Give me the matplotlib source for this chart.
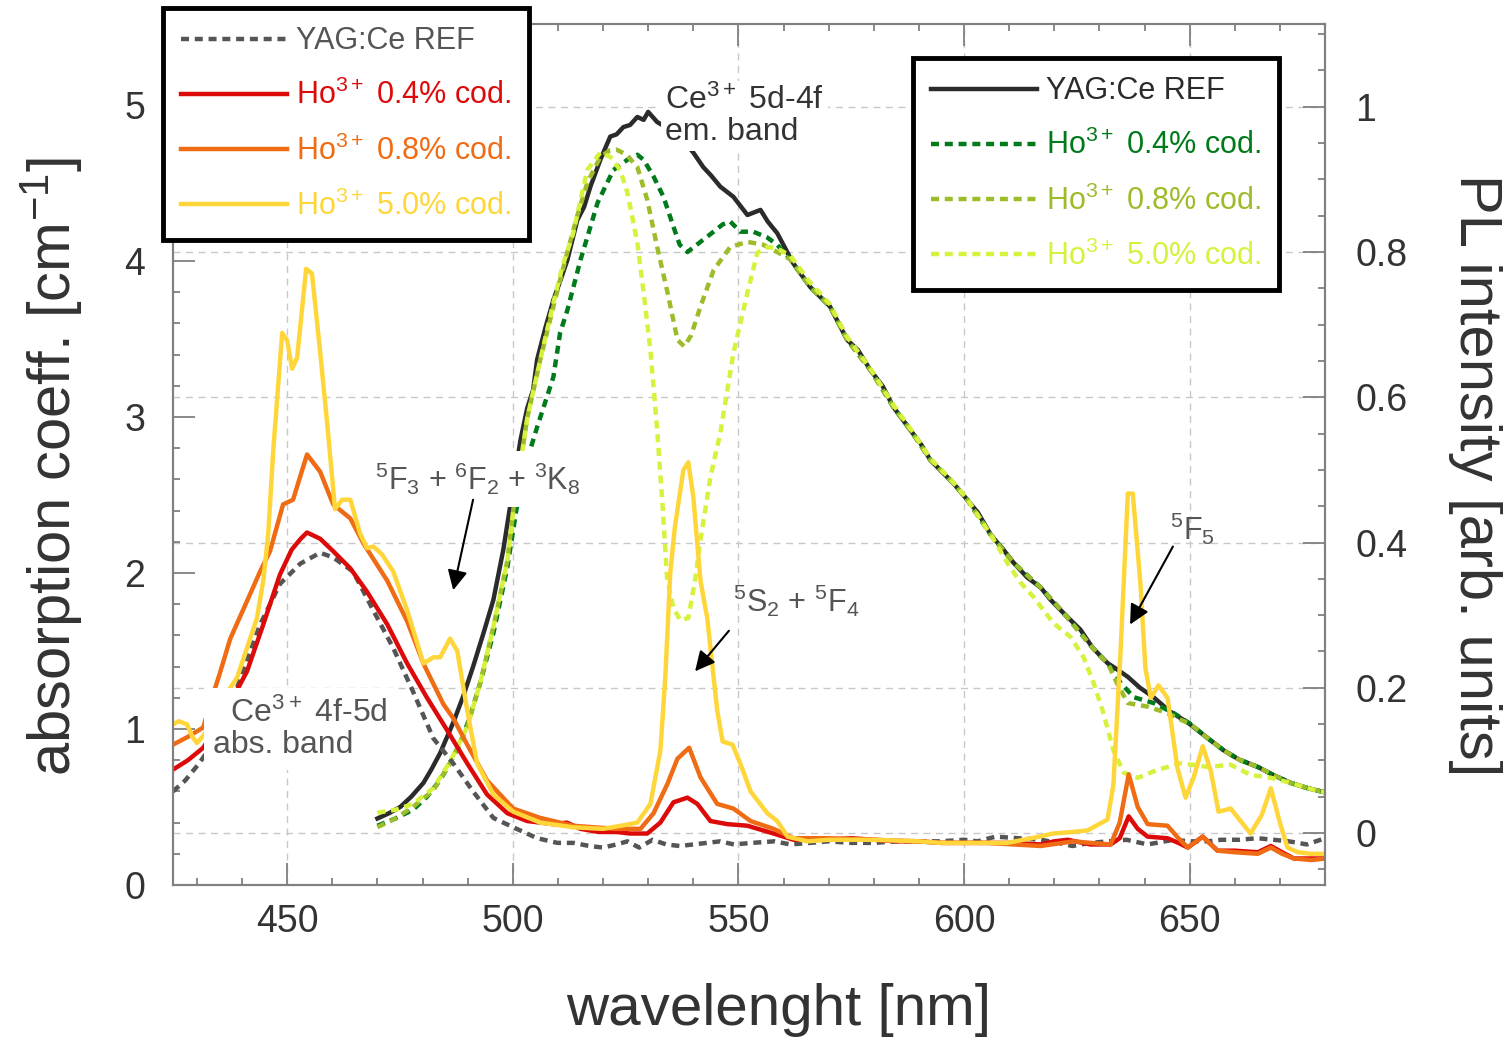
import numpy as np
import matplotlib.pyplot as plt
from matplotlib.ticker import MultipleLocator

plt.rcParams['font.family'] = ['Liberation Sans', 'DejaVu Sans']
plt.rcParams['mathtext.fontset'] = 'custom'
plt.rcParams['mathtext.rm'] = 'Liberation Sans'
plt.rcParams['mathtext.it'] = 'Liberation Sans:italic'
plt.rcParams['mathtext.bf'] = 'Liberation Sans:bold'

# ---- absorption spectra (left axis, cm^-1) ----
abs_ref_nm = [424.7, 427.4, 430.5, 433.6, 437.0, 440.0, 444.0, 448.4, 452.9, 457.3, 460.2, 464.6,
              469.1, 473.5, 477.9, 482.4, 486.8, 491.2, 495.7, 500.1, 505.4, 509.9, 513.4, 517.0,
              520.0, 523.0, 525.4, 528.0, 531.0, 534.0, 537.0, 540.0, 543.0, 546.0, 549.0, 553.0,
              558.0, 561.5, 566.0, 570.0, 575.0, 580.0, 585.0, 590.0, 594.8, 600.0, 603.0, 607.0,
              612.0, 617.0, 621.0, 624.0, 628.0, 632.0, 636.0, 640.7, 646.5, 650.0, 654.0, 657.0,
              661.0, 665.0, 668.6, 672.0, 676.0, 680.0]
abs_ref = [0.60, 0.67, 0.78, 0.91, 1.12, 1.35, 1.67, 1.93, 2.06, 2.13, 2.10, 2.01,
           1.76, 1.52, 1.24, 0.94, 0.78, 0.60, 0.43, 0.37, 0.30, 0.27, 0.27, 0.25,
           0.24, 0.26, 0.28, 0.24, 0.29, 0.26, 0.25, 0.26, 0.27, 0.28, 0.26, 0.27,
           0.28, 0.26, 0.27, 0.28, 0.27, 0.27, 0.28, 0.28, 0.28, 0.29, 0.28, 0.31,
           0.30, 0.29, 0.27, 0.25, 0.27, 0.28, 0.29, 0.26, 0.29, 0.28, 0.28, 0.29,
           0.29, 0.30, 0.29, 0.28, 0.26, 0.30]

abs_04_nm = [424.7, 428.0, 431.4, 434.0, 436.7, 441.1, 444.7, 448.4, 451.0, 453.0, 454.4, 457.3,
             460.2, 464.0, 467.7, 472.2, 476.6, 481.0, 485.5, 489.9, 494.3, 498.8, 503.2, 509.0,
             512.0, 515.0, 519.0, 523.0, 526.0, 529.8, 532.7, 535.6, 538.7, 540.9, 543.8, 547.6,
             552.0, 557.8, 562.2, 566.0, 570.0, 575.0, 580.0, 585.0, 590.0, 594.8, 600.0, 605.0,
             610.0, 617.0, 620.0, 623.0, 628.0, 632.5, 634.5, 636.5, 638.5, 640.7, 645.1, 647.5,
             649.6, 652.9, 656.2, 660.0, 665.1, 668.0, 670.5, 673.1, 677.0, 680.0]
abs_04 = [0.74, 0.80, 0.88, 1.00, 1.13, 1.37, 1.67, 1.99, 2.15, 2.22, 2.26, 2.22,
          2.14, 2.03, 1.88, 1.67, 1.42, 1.20, 0.99, 0.78, 0.58, 0.46, 0.41, 0.39,
          0.40, 0.36, 0.34, 0.34, 0.33, 0.33, 0.40, 0.53, 0.56, 0.52, 0.41, 0.39,
          0.38, 0.33, 0.29, 0.29, 0.29, 0.30, 0.29, 0.28, 0.28, 0.27, 0.27, 0.27,
          0.27, 0.26, 0.28, 0.29, 0.26, 0.26, 0.30, 0.44, 0.36, 0.31, 0.30, 0.27,
          0.24, 0.31, 0.22, 0.22, 0.21, 0.25, 0.21, 0.17, 0.17, 0.17]

abs_08_nm = [424.7, 428.0, 431.4, 432.9, 435.0, 437.4, 441.1, 444.0, 446.2, 449.1, 451.3, 454.4,
             457.3, 460.2, 464.0, 466.9, 472.2, 476.6, 480.2, 484.6, 486.8, 489.9, 494.3, 500.1,
             506.1, 509.0, 513.4, 518.0, 523.0, 528.3, 531.2, 534.3, 536.5, 539.1, 541.6, 545.3,
             548.9, 552.7, 557.8, 562.2, 570.0, 580.0, 590.0, 594.8, 605.0, 617.0, 624.3, 628.0,
             632.5, 634.5, 636.5, 638.5, 640.7, 645.1, 647.5, 649.6, 652.9, 656.2, 660.0, 665.1,
             668.0, 670.5, 673.1, 677.0, 680.0]
abs_08 = [0.90, 0.95, 1.01, 1.16, 1.35, 1.58, 1.82, 2.01, 2.14, 2.44, 2.47, 2.76,
          2.65, 2.44, 2.35, 2.19, 1.95, 1.69, 1.42, 1.16, 1.07, 0.90, 0.67, 0.49,
          0.43, 0.41, 0.38, 0.37, 0.36, 0.36, 0.46, 0.65, 0.81, 0.88, 0.69, 0.52,
          0.49, 0.41, 0.36, 0.30, 0.30, 0.29, 0.28, 0.27, 0.27, 0.25, 0.28, 0.27,
          0.26, 0.40, 0.71, 0.50, 0.39, 0.38, 0.30, 0.24, 0.31, 0.22, 0.21, 0.20,
          0.24, 0.20, 0.17, 0.16, 0.17]

abs_50_nm = [424.7, 426.0, 427.8, 429.0, 430.0, 431.5, 432.9, 435.5, 438.9, 443.3, 444.7, 445.8,
             446.9, 448.9, 450.0, 451.1, 452.2, 454.2, 455.5, 457.3, 458.9, 460.6, 462.2, 464.0,
             466.2, 467.7, 469.1, 471.0, 473.5, 476.6, 480.2, 482.4, 483.9, 486.1, 487.7, 489.9,
             492.1, 495.7, 500.1, 506.1, 513.4, 520.0, 524.0, 527.6, 530.5, 532.7, 533.8, 534.9,
             535.9, 537.8, 538.9, 540.0, 541.6, 543.1, 545.3, 546.5, 548.7, 550.4, 552.7, 556.4,
             558.6, 560.9, 565.3, 570.0, 580.0, 590.0, 594.8, 600.0, 609.6, 615.0, 619.8, 624.0,
             627.4, 631.8, 633.1, 634.7, 636.3, 637.4, 639.1, 640.2, 641.4, 643.1, 645.1, 647.3,
             649.1, 650.9, 652.9, 654.7, 656.4, 659.1, 663.5, 666.0, 668.0, 670.0, 671.7, 674.0,
             676.8, 680.0]
abs_50 = [1.03, 1.05, 1.03, 0.95, 0.91, 0.96, 1.03, 1.18, 1.33, 1.71, 1.95, 2.25,
          2.78, 3.54, 3.49, 3.31, 3.38, 3.95, 3.92, 3.42, 2.95, 2.41, 2.47, 2.47,
          2.25, 2.16, 2.17, 2.12, 2.01, 1.76, 1.42, 1.46, 1.46, 1.58, 1.50, 1.12,
          0.78, 0.58, 0.47, 0.40, 0.37, 0.36, 0.38, 0.40, 0.52, 0.86, 1.33, 2.00,
          2.29, 2.66, 2.71, 2.49, 1.95, 1.71, 1.12, 0.92, 0.90, 0.78, 0.60, 0.46,
          0.41, 0.31, 0.28, 0.29, 0.29, 0.28, 0.27, 0.27, 0.27, 0.30, 0.33, 0.34,
          0.35, 0.42, 0.64, 1.50, 2.51, 2.51, 1.93, 1.39, 1.20, 1.28, 1.20, 0.75,
          0.56, 0.69, 0.89, 0.73, 0.47, 0.49, 0.33, 0.45, 0.62, 0.40, 0.24, 0.21,
          0.20, 0.20]

# ---- photoluminescence spectra (right axis, arb. units) ----
pl_ref_nm = [470.0, 472.5, 475.1, 477.5, 480.2, 482.0, 483.9, 486.8, 489.0, 491.2, 493.5, 495.7,
             497.9, 499.8, 501.7, 503.2, 504.5, 505.4, 507.2, 509.0, 510.5, 512.1, 514.3, 515.8,
             517.2, 519.4, 521.6, 523.0, 524.5, 526.0, 527.6, 529.0, 530.0, 532.0, 535.0, 538.0,
             540.0, 542.2, 544.0, 546.0, 548.9, 552.0, 554.9, 556.5, 558.6, 562.1, 565.9, 570.3,
             574.1, 576.5, 579.2, 582.0, 584.3, 588.1, 590.5, 592.5, 595.0, 597.6, 600.7, 603.1,
             606.0, 608.5, 611.0, 614.0, 617.0, 619.2, 622.5, 625.8, 628.5, 631.8, 634.0, 636.3,
             639.0, 642.0, 645.5, 649.6, 653.5, 657.5, 661.0, 665.1, 668.5, 672.4, 676.0, 680.0]
pl_ref = [0.020, 0.027, 0.036, 0.050, 0.069, 0.088, 0.110, 0.152, 0.188, 0.229, 0.275, 0.321,
          0.390, 0.465, 0.541, 0.585, 0.610, 0.652, 0.695, 0.734, 0.760, 0.789, 0.844, 0.862,
          0.890, 0.927, 0.959, 0.962, 0.972, 0.975, 0.986, 0.982, 0.993, 0.979, 0.968, 0.952,
          0.937, 0.917, 0.905, 0.890, 0.876, 0.851, 0.858, 0.842, 0.826, 0.785, 0.752, 0.725,
          0.679, 0.665, 0.638, 0.615, 0.587, 0.555, 0.535, 0.514, 0.498, 0.482, 0.459, 0.441,
          0.410, 0.392, 0.372, 0.352, 0.338, 0.321, 0.300, 0.280, 0.255, 0.234, 0.225, 0.215,
          0.200, 0.187, 0.168, 0.152, 0.133, 0.114, 0.101, 0.091, 0.080, 0.069, 0.062, 0.056]

pl_04_nm = [470.0, 474.0, 477.9, 481.0, 483.9, 486.0, 488.4, 490.5, 492.8, 495.7, 498.8, 500.9,
            503.0, 505.4, 509.0, 510.5, 512.1, 515.0, 518.8, 522.3, 525.4, 527.6, 529.0, 531.2,
            533.4, 535.6, 537.0, 538.7, 541.6, 544.5, 546.5, 548.2, 550.4, 553.3, 556.4, 558.6,
            561.5, 565.9, 570.3, 574.1, 579.2, 584.3, 588.1, 592.5, 597.6, 600.7, 606.0, 611.0,
            617.0, 622.5, 628.5, 632.0, 634.7, 637.6, 642.0, 646.5, 650.2, 653.5, 657.5, 661.0,
            665.1, 668.5, 672.4, 676.0, 680.0]
pl_04 = [0.010, 0.020, 0.032, 0.050, 0.073, 0.095, 0.124, 0.160, 0.207, 0.275, 0.366, 0.449,
         0.510, 0.559, 0.628, 0.689, 0.720, 0.789, 0.868, 0.913, 0.927, 0.934, 0.927, 0.904,
         0.876, 0.835, 0.810, 0.800, 0.814, 0.828, 0.838, 0.842, 0.828, 0.828, 0.820, 0.810,
         0.790, 0.752, 0.725, 0.679, 0.638, 0.587, 0.555, 0.514, 0.482, 0.459, 0.410, 0.372,
         0.338, 0.300, 0.255, 0.232, 0.207, 0.187, 0.179, 0.165, 0.150, 0.133, 0.114, 0.101,
         0.091, 0.080, 0.069, 0.062, 0.056]

pl_08_nm = [470.0, 474.0, 477.9, 482.4, 486.1, 489.9, 492.8, 495.7, 498.8, 500.1, 503.2, 506.1,
            509.0, 512.1, 514.3, 516.5, 519.4, 521.5, 523.0, 525.2, 527.6, 529.8, 532.0, 534.3,
            536.5, 538.0, 539.5, 541.6, 544.5, 548.2, 552.0, 555.5, 558.6, 561.5, 565.9, 570.3,
            574.1, 579.2, 584.3, 588.1, 592.5, 597.6, 600.7, 606.0, 611.0, 617.0, 622.5, 628.5,
            632.0, 634.0, 636.3, 640.7, 645.1, 648.0, 650.2, 653.5, 657.5, 661.0, 665.1, 668.5,
            672.4, 676.0, 680.0]
pl_08 = [0.008, 0.020, 0.036, 0.059, 0.096, 0.146, 0.207, 0.284, 0.375, 0.444, 0.571, 0.652,
         0.725, 0.800, 0.850, 0.895, 0.931, 0.940, 0.941, 0.934, 0.917, 0.872, 0.807, 0.744,
         0.679, 0.670, 0.685, 0.725, 0.775, 0.807, 0.814, 0.810, 0.800, 0.790, 0.752, 0.725,
         0.679, 0.638, 0.587, 0.555, 0.514, 0.482, 0.459, 0.410, 0.372, 0.338, 0.300, 0.255,
         0.232, 0.205, 0.179, 0.174, 0.165, 0.156, 0.150, 0.133, 0.114, 0.101, 0.091, 0.080,
         0.069, 0.062, 0.056]

pl_50_nm = [470.0, 474.0, 477.9, 482.4, 486.1, 489.9, 492.8, 495.7, 498.8, 500.1, 503.2, 506.1,
            509.0, 511.0, 513.4, 516.5, 519.4, 521.6, 523.8, 525.4, 527.6, 529.0, 530.5, 532.0,
            533.2, 534.2, 535.6, 537.1, 538.9, 540.4, 541.5, 543.8, 546.0, 548.9, 552.0, 554.2,
            556.4, 558.6, 561.5, 565.9, 570.3, 574.1, 579.2, 584.3, 588.1, 592.5, 597.6, 600.7,
            606.0, 609.6, 612.5, 615.4, 619.8, 623.6, 626.5, 628.7, 630.9, 633.1, 635.4, 638.5,
            642.9, 648.0, 654.0, 659.1, 663.5, 668.0, 672.4, 676.0, 680.0]
pl_50 = [0.028, 0.032, 0.040, 0.062, 0.098, 0.146, 0.207, 0.284, 0.375, 0.444, 0.571, 0.652,
         0.730, 0.780, 0.826, 0.913, 0.937, 0.931, 0.913, 0.882, 0.813, 0.744, 0.665, 0.555,
         0.450, 0.350, 0.310, 0.293, 0.296, 0.348, 0.400, 0.490, 0.551, 0.661, 0.744, 0.799,
         0.807, 0.805, 0.795, 0.758, 0.728, 0.683, 0.640, 0.590, 0.557, 0.516, 0.483, 0.460,
         0.410, 0.372, 0.345, 0.325, 0.289, 0.270, 0.242, 0.207, 0.165, 0.114, 0.083, 0.076,
         0.087, 0.096, 0.091, 0.094, 0.080, 0.076, 0.069, 0.062, 0.056]

W, H = 1503, 1040
fig = plt.figure(figsize=(W / 100, H / 100), dpi=100)
ax = fig.add_axes([173 / W, 155 / H, 1152 / W, 861 / H])
ax2 = ax.twinx()
# absorption axis on top of the PL axis
ax.set_zorder(ax2.get_zorder() + 1)
ax.patch.set_visible(False)

dash = (0, (1.8, 1.3))
lw = 3.2

# PL curves
l_ref, = ax2.plot(pl_ref_nm, pl_ref, color='#2b2b2b', lw=lw, label='YAG:Ce REF')
l_p04, = ax2.plot(pl_04_nm, pl_04, color='#007a1a', lw=lw, ls=dash, label='Ho$^{3+}$ 0.4% cod.')
l_p08, = ax2.plot(pl_08_nm, pl_08, color='#9cbc2a', lw=lw, ls=dash, label='Ho$^{3+}$ 0.8% cod.')
l_p50, = ax2.plot(pl_50_nm, pl_50, color='#d6f23c', lw=lw, ls=dash, label='Ho$^{3+}$ 5.0% cod.')

# absorption curves
a_ref, = ax.plot(abs_ref_nm, abs_ref, color='#555555', lw=lw, ls=dash, label='YAG:Ce REF')
a_04, = ax.plot(abs_04_nm, abs_04, color='#dd0a0a', lw=lw, label='Ho$^{3+}$ 0.4% cod.')
a_08, = ax.plot(abs_08_nm, abs_08, color='#f06c14', lw=lw, label='Ho$^{3+}$ 0.8% cod.')
a_50, = ax.plot(abs_50_nm, abs_50, color='#ffd63a', lw=lw, label='Ho$^{3+}$ 5.0% cod.')

ax.set_xlim(424.7, 680.0)
ax.set_ylim(0, 5.52)
ax2.set_ylim(-0.0716, 1.114)

ax.set_xticks([450, 500, 550, 600, 650])
ax.xaxis.set_minor_locator(MultipleLocator(10))
ax.set_yticks([0, 1, 2, 3, 4, 5])
ax.yaxis.set_minor_locator(MultipleLocator(0.2))
ax2.set_yticks([0, 0.2, 0.4, 0.6, 0.8, 1.0])
ax2.set_yticklabels(['0', '0.2', '0.4', '0.6', '0.8', '1'])
ax2.yaxis.set_minor_locator(MultipleLocator(0.05))

tick_col = '#808080'
lab_col = '#333333'
ax.tick_params(axis='x', which='both', direction='in', top=True, colors=tick_col,
               labelcolor=lab_col, labelsize=27, pad=14, width=1.3)
ax.tick_params(axis='y', which='both', direction='in', right=False, colors=tick_col,
               labelcolor=lab_col, labelsize=27, pad=20, width=1.3)
ax2.tick_params(axis='y', which='both', direction='in', colors=tick_col,
                labelcolor=lab_col, labelsize=27, pad=22, width=1.3)
for a in (ax, ax2):
    a.tick_params(which='major', length=16)
    a.tick_params(which='minor', length=5)
    for s in a.spines.values():
        s.set_color(tick_col)
        s.set_linewidth(1.5)

# dashed grid taken from the PL axis, drawn underneath everything
ax2.xaxis.set_visible(True)
ax2.tick_params(axis='x', which='both', bottom=False, top=False,
                labelbottom=False, labeltop=False)
ax2.grid(True, which='major', color='#c8c8c8', ls=(0, (5, 4)), lw=1)

fig.text(779 / W, 1 - 1010 / H, 'wavelenght [nm]', ha='center', va='center',
         fontsize=42, color=lab_col)
fig.text(52 / W, 1 - 467 / H, 'absorption coeff. [cm$^{-1}$]', ha='center', va='center',
         rotation=90, fontsize=43, color=lab_col)
fig.text(1475 / W, 1 - 475 / H, 'PL intensity [arb. units]', ha='center', va='center',
         rotation=-90, fontsize=43, color=lab_col)

# annotations
ann_col = '#555555'
arrow = dict(arrowstyle='-|>,head_length=0.6,head_width=0.3', color='black', lw=1.5,
             mutation_scale=20, shrinkA=0, shrinkB=0)

ax.text(433.6, 1.20, '  Ce$^{3+}$ 4f-5d\nabs. band', fontsize=23, color=ann_col,
        ha='left', va='top', linespacing=1.05,
        bbox=dict(facecolor='white', edgecolor='none', pad=7), zorder=6)
ax.text(533.8, 5.13, 'Ce$^{3+}$ 5d-4f\nem. band', fontsize=23, color=lab_col,
        ha='left', va='top', linespacing=1.05,
        bbox=dict(facecolor='white', edgecolor='none', pad=3), zorder=6)

ax.text(469.5, 2.53, '$^5$F$_3$ + $^6$F$_2$ + $^3$K$_8$', fontsize=22, color=ann_col,
        ha='left', va='baseline', bbox=dict(facecolor='white', edgecolor='none', pad=7), zorder=6)
ax.annotate('', xy=(486.8, 1.89), xytext=(491.2, 2.47), arrowprops=arrow, zorder=7)

ax.text(548.8, 1.75, '$^5$S$_2$ + $^5$F$_4$', fontsize=22, color=ann_col,
        ha='left', va='baseline', zorder=6)
ax.annotate('', xy=(540.4, 1.37), xytext=(547.9, 1.63), arrowprops=arrow, zorder=7)

ax.text(645.6, 2.21, '$^5$F$_5$', fontsize=22, color=ann_col,
        ha='left', va='baseline', zorder=6)
ax.annotate('', xy=(636.8, 1.67), xytext=(646.3, 2.17), arrowprops=arrow, zorder=7)

# legends
leg_kw = dict(loc='upper left', bbox_transform=fig.transFigure, fontsize=22, frameon=True,
              fancybox=False, edgecolor='black', framealpha=1, borderpad=0.6,
              labelspacing=0.78, handlelength=3.45, handletextpad=0.3, borderaxespad=0,
              labelcolor='linecolor')
leg1 = ax.legend(handles=[a_ref, a_04, a_08, a_50], bbox_to_anchor=(163 / W, 1 - 8 / H), **leg_kw)
leg1.get_frame().set_linewidth(3.5)
ax.add_artist(leg1)
leg2 = ax.legend(handles=[l_ref, l_p04, l_p08, l_p50], bbox_to_anchor=(913 / W, 1 - 58 / H), **leg_kw)
leg2.get_frame().set_linewidth(3.5)

fig.savefig('out.png', dpi=100, facecolor='white')
